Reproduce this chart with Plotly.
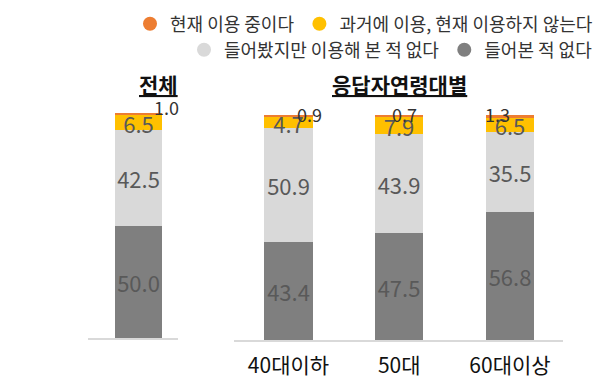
import plotly.graph_objects as go

# ---------------- data ----------------
series_names = ["현재 이용 중이다", "과거에 이용, 현재 이용하지 않는다",
                "들어봤지만 이용해 본 적 없다", "들어본 적 없다"]
total_cat = ["전체"]
age_cats = ["40대이하", "50대", "60대이상"]

# values: stacked bottom -> top is never heard, heard not used, past, current
total_never = [50.0]
total_heard = [42.5]
total_past = [6.5]
total_current = [1.0]

age_never = [43.4, 47.5, 56.8]
age_heard = [50.9, 43.9, 35.5]
age_past = [4.7, 7.9, 6.5]
age_current = [0.9, 0.7, 1.3]

title_total = "전체"
title_age = "응답자연령대별"

# ---------------- styles ----------------
C_CUR = "#ED7D31"
C_PAST = "#FFC000"
C_HEARD = "#D9D9D9"
C_NEVER = "#7F7F7F"
FONT = "Noto Sans CJK KR"
LBL = "#595959"

W, H = 610, 389


def px_x(p):
    return p / W


def px_y(p):
    return 1 - p / H


fig = go.Figure()


def add_stack(x, vals_list, colors, xa, ya, show_text):
    for vals, col, st in zip(vals_list, colors, show_text):
        fig.add_trace(go.Bar(
            x=x, y=vals, marker=dict(color=col, line=dict(width=0)),
            xaxis=xa, yaxis=ya, showlegend=False,
            text=[f"{v:.1f}" for v in vals] if st else None,
            textposition="inside" if st else "none",
            insidetextanchor="middle", textangle=0, constraintext="none",
            insidetextfont=dict(family=FONT, size=22, color=LBL),
            width=0.52 if xa == "x" else 0.435,
            hoverinfo="skip",
        ))


add_stack(total_cat, [total_never, total_heard, total_past, total_current],
          [C_NEVER, C_HEARD, C_PAST, C_CUR], "x", "y", [True, True, True, False])
add_stack(age_cats, [age_never, age_heard, age_past, age_current],
          [C_NEVER, C_HEARD, C_PAST, C_CUR], "x2", "y2", [True, True, True, False])

# legend entries (circle markers)
legend_colors = [C_CUR, C_PAST, C_HEARD, C_NEVER]
legend_ids = ["legend", "legend", "legend2", "legend2"]
for name, col, lg in zip(series_names, legend_colors, legend_ids):
    fig.add_trace(go.Scatter(
        x=[None], y=[None], mode="markers", name=name,
        marker=dict(symbol="circle", size=14, color=col),
        legend=lg, xaxis="x2", yaxis="y2", showlegend=True,
    ))

# small "current" labels as annotations
small_shift_total = [(28, 6)]
small_shift_age = [(21, 1), (5, 1), (-12, 1)]
SMALL_FONT = dict(family=FONT, size=18, color="#333333")
annos = []
for c, v, (dx, dy) in zip(total_cat, total_current, small_shift_total):
    top = min(total_never[0] + total_heard[0] + total_past[0] + v, 99.99)
    annos.append(dict(x=c, y=top, xref="x", yref="y", text=f"{v:.1f}",
                      showarrow=False, xshift=dx, yshift=dy, font=SMALL_FONT))
for i, (c, v, (dx, dy)) in enumerate(zip(age_cats, age_current, small_shift_age)):
    top = min(age_never[i] + age_heard[i] + age_past[i] + v, 99.99)
    annos.append(dict(x=c, y=top, xref="x2", yref="y2", text=f"{v:.1f}",
                      showarrow=False, xshift=dx, yshift=dy, font=SMALL_FONT))

annos.append(dict(x=px_x(137), y=px_y(84), xref="paper", yref="paper",
                  yanchor="middle",
                  text=f"<b><u>{title_total}</u></b>", showarrow=False,
                  font=dict(family=FONT, size=21, color="#111111")))
annos.append(dict(x=px_x(400), y=px_y(84), xref="paper", yref="paper",
                  yanchor="middle",
                  text=f"<b><u>{title_age}</u></b>", showarrow=False,
                  font=dict(family=FONT, size=21, color="#111111")))

LEG_FONT = dict(family=FONT, size=18, color="#333333")

fig.update_layout(
    width=W, height=H,
    margin=dict(l=0, r=0, t=0, b=0),
    paper_bgcolor="white", plot_bgcolor="white",
    barmode="stack", bargap=0,
    font=dict(family=FONT),
    annotations=annos,
    xaxis=dict(domain=[px_x(88), px_x(178)], range=[-0.561, 0.439],
               showticklabels=False, showgrid=False, zeroline=False,
               showline=True, linecolor="#D9D9D9", linewidth=1.5, ticks=""),
    yaxis=dict(domain=[px_y(338), px_y(113)], range=[0, 100], visible=False,
               showgrid=False),
    xaxis2=dict(domain=[px_x(234), px_x(563)], range=[-0.492, 2.479],
                showgrid=False, zeroline=False, anchor="y2",
                showline=True, linecolor="#D9D9D9", linewidth=1.5, ticks="",
                ticklabelstandoff=6,
                tickfont=dict(family=FONT, size=21, color="#111111")),
    yaxis2=dict(domain=[px_y(340), px_y(115)], range=[0, 100], visible=False,
                showgrid=False, anchor="x2"),
    legend=dict(orientation="h", x=px_x(598), xanchor="right",
                y=px_y(24), yanchor="middle", bgcolor="rgba(0,0,0,0)",
                font=LEG_FONT, traceorder="normal",
                itemwidth=30, tracegroupgap=0),
    legend2=dict(orientation="h", x=px_x(598), xanchor="right",
                 y=px_y(50), yanchor="middle", bgcolor="rgba(0,0,0,0)",
                 font=LEG_FONT, traceorder="normal",
                 itemwidth=30, tracegroupgap=0),
)

fig.write_html("out.html", config={"displayModeBar": False},
               post_script="document.body.style.margin='0';")
